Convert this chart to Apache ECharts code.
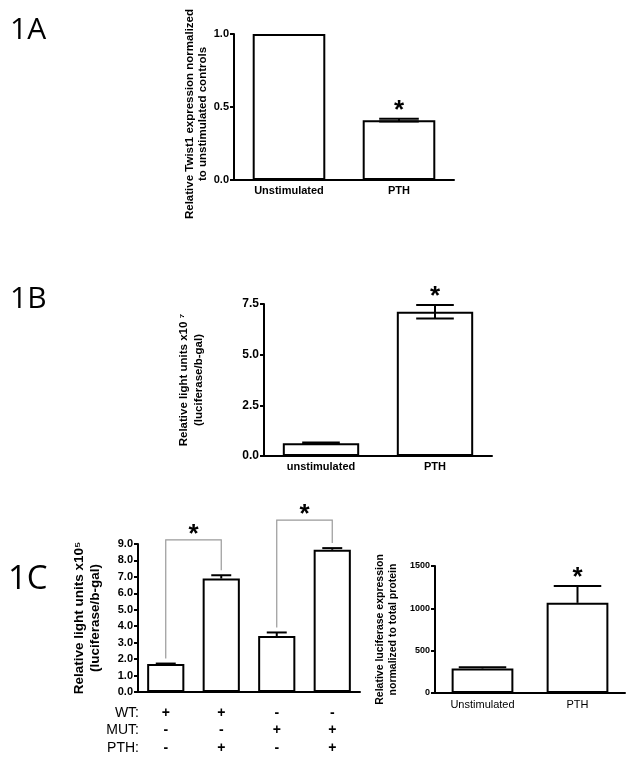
<!DOCTYPE html>
<html>
<head>
<meta charset="utf-8">
<title>Figure 1</title>
<script src="https://cdn.jsdelivr.net/npm/echarts@6/dist/echarts.min.js"></script>
<style>
html, body { margin: 0; padding: 0; background: #fff; }
#chart { width: 629px; height: 758px; }
</style>
</head>
<body>
<div id="chart"></div>
<script>
// 1A: Twist1 expression
var aCategories = ['Unstimulated', 'PTH'];
var aValues = [1.0, 0.41];
var aErrors = [0, 0.01];
var aSig = [0, 1];

// 1B: luciferase / b-gal
var bCategories = ['unstimulated', 'PTH'];
var bValues = [0.63, 7.12];
var bErrors = [0.04, 0.33];
var bSig = [0, 1];

// 1C left: WT / MUT promoter, +/- PTH
var cRowNames = ['WT:', 'MUT:', 'PTH:'];
var cWT = ['+', '+', '-', '-'];
var cMUT = ['-', '-', '+', '+'];
var cPTH = ['-', '+', '-', '+'];
var cValues = [1.7, 6.9, 3.4, 8.65];
var cErrors = [0.03, 0.2, 0.22, 0.1];
var cBrackets = [[0, 1, 9.25], [2, 3, 10.45]]; // from, to, bracket level

// 1C right: luciferase normalized to protein
var dCategories = ['Unstimulated', 'PTH'];
var dValues = [290, 1065];
var dErrors = [15, 200];
var dSig = [0, 1];

var FONT = 'Liberation Sans, Arial, sans-serif';

var chart = echarts.init(document.getElementById('chart'), null, { renderer: 'canvas' });

function star(x, y) {
    return {
        type: 'text',
        style: { text: '*', x: x, y: y, fill: '#000', fontSize: 26, fontWeight: 'bold', fontFamily: FONT, align: 'center', verticalAlign: 'middle' }
    };
}

// error bar (+ optional star) drawn through the axis scales
function errorBars(upOnly, capRatio) {
    return function (params, api) {
        var idx = api.value(0), val = api.value(1), err = api.value(2), sig = api.value(3);
        var hi = api.coord([idx, val + err]);
        var lo = api.coord([idx, upOnly ? val : val - err]);
        var half = api.size([1, 0])[0] * capRatio / 2;
        var st = { stroke: '#000', lineWidth: 2 };
        var kids = [];
        if (err > 0) {
            kids.push({ type: 'line', shape: { x1: hi[0], y1: hi[1], x2: lo[0], y2: lo[1] }, style: st });
            kids.push({ type: 'line', shape: { x1: hi[0] - half, y1: hi[1], x2: hi[0] + half, y2: hi[1] }, style: st });
            if (!upOnly) kids.push({ type: 'line', shape: { x1: lo[0] - half, y1: lo[1], x2: lo[0] + half, y2: lo[1] }, style: st });
        }
        if (sig) kids.push(star(hi[0], hi[1] - 8));
        return { type: 'group', children: kids };
    };
}

function bracketItem(params, api) {
    var i = api.value(0), j = api.value(1), level = api.value(2);
    var a = api.coord([i, cValues[i] + cErrors[i]]);
    var b = api.coord([j, cValues[j] + cErrors[j]]);
    var top = api.coord([i, level])[1];
    return {
        type: 'group',
        children: [
            { type: 'polyline', shape: { points: [[a[0], a[1] - 5], [a[0], top], [b[0], top], [b[0], b[1] - 5]] },
              style: { stroke: '#9a9a9a', lineWidth: 1.2, fill: null } },
            star((a[0] + b[0]) / 2, top - 5)
        ]
    };
}

function errData(values, errors, sig) {
    return values.map(function (v, i) { return [i, v, errors[i], sig ? sig[i] : 0]; });
}

function catAxis(gridIndex, data, labelOpt) {
    return {
        type: 'category', gridIndex: gridIndex, data: data,
        axisLine: { lineStyle: { color: '#000', width: 2 } },
        axisTick: { alignWithLabel: true, length: 4, lineStyle: { color: '#000', width: 2 } },
        axisLabel: Object.assign({ color: '#000', fontFamily: FONT, fontSize: 11, fontWeight: 'bold', margin: 5 }, labelOpt || {})
    };
}

function valAxis(gridIndex, max, interval, labelSize, digits, name, nameSize, nameLine, nameGap, namePad) {
    return {
        type: 'value', gridIndex: gridIndex, min: 0, max: max, interval: interval,
        splitLine: { show: false },
        axisLine: { show: true, lineStyle: { color: '#000', width: 2 } },
        axisTick: { show: true, length: 4, lineStyle: { color: '#000', width: 2 } },
        axisLabel: { color: '#000', fontFamily: FONT, fontSize: labelSize, fontWeight: 'bold', margin: 5,
            formatter: function (v) { return v.toFixed(digits); } },
        name: name, nameLocation: 'middle', nameRotate: 90, nameGap: nameGap,
        nameTextStyle: { color: '#000', fontFamily: FONT, fontSize: nameSize, fontWeight: 'bold', lineHeight: nameLine,
            align: 'center', padding: namePad || 0 }
    };
}

function barSeries(idx, values, width) {
    return {
        type: 'bar', xAxisIndex: idx, yAxisIndex: idx, data: values, barWidth: width,
        itemStyle: { color: '#fff', borderColor: '#000', borderWidth: 2 }
    };
}

function errSeries(idx, data, upOnly, capRatio) {
    return {
        type: 'custom', xAxisIndex: idx, yAxisIndex: idx, data: data, clip: false, z: 5,
        renderItem: errorBars(upOnly, capRatio)
    };
}

var cLabels = cWT.map(function (w, i) { return w + '\n' + cMUT[i] + '\n' + cPTH[i]; });

var option = {
    animation: false,
    backgroundColor: '#fff',
    grid: [
        { left: 234, top: 34, width: 220, height: 146, outerBoundsMode: 'none' },
        { left: 264, top: 304, width: 228, height: 152, outerBoundsMode: 'none' },
        { left: 138, top: 544, width: 222, height: 148, outerBoundsMode: 'none' },
        { left: 435, top: 566, width: 190, height: 127, outerBoundsMode: 'none' }
    ],
    xAxis: [
        catAxis(0, aCategories),
        catAxis(1, bCategories),
        catAxis(2, cLabels, { fontSize: 14, lineHeight: 17.5, margin: 12 }),
        catAxis(3, dCategories, { fontWeight: 'normal', margin: 6 })
    ],
    yAxis: [
        valAxis(0, 1, 0.5, 11, 1, 'Relative Twist1 expression normalized\nto unstimulated controls', 11.5, 13, 25, [0, 14, 0, 0]),
        valAxis(1, 7.5, 2.5, 12, 1, 'Relative light units x10 \u2077\n(luciferase/b-gal)', 11.5, 15, 58),
        valAxis(2, 9, 1, 11, 1, 'Relative light units x10\u2075\n(luciferase/b-gal)', 13.5, 16, 35),
        valAxis(3, 1500, 500, 9, 0, 'Relative luciferase expression\nnormalized to total protein', 10.5, 13.5, 35)
    ],
    series: [
        barSeries(0, aValues, '66%'),
        errSeries(0, errData(aValues, aErrors, aSig), false, 0.36),
        barSeries(1, bValues, '67%'),
        errSeries(1, errData(bValues, bErrors, bSig), false, 0.33),
        barSeries(2, cValues, '67%'),
        errSeries(2, errData(cValues, cErrors), true, 0.36),
        {
            type: 'custom', xAxisIndex: 2, yAxisIndex: 2, data: cBrackets, clip: false, z: 4,
            renderItem: bracketItem
        },
        barSeries(3, dValues, '65%'),
        errSeries(3, errData(dValues, dErrors, dSig), true, 0.5)
    ],
    graphic: [
        { type: 'text', left: 10, top: 15, style: { text: '1A', fontSize: 30, fontFamily: 'Open Sans, Noto Sans, sans-serif', fill: '#000' } },
        { type: 'text', left: 10, top: 284, style: { text: '1B', fontSize: 30, fontFamily: 'Open Sans, Noto Sans, sans-serif', fill: '#000' } },
        { type: 'text', left: 8, top: 563, style: { text: '1C', fontSize: 33, fontFamily: 'Open Sans, Noto Sans, sans-serif', fill: '#000' } }
    ].concat(cRowNames.map(function (n, i) {
        return { type: 'text', x: 139, y: 713 + i * 17.5,
            style: { text: n, fontSize: 14, fontFamily: FONT, fill: '#000', align: 'right', verticalAlign: 'middle' } };
    }))
};

chart.setOption(option);
</script>
</body>
</html>
